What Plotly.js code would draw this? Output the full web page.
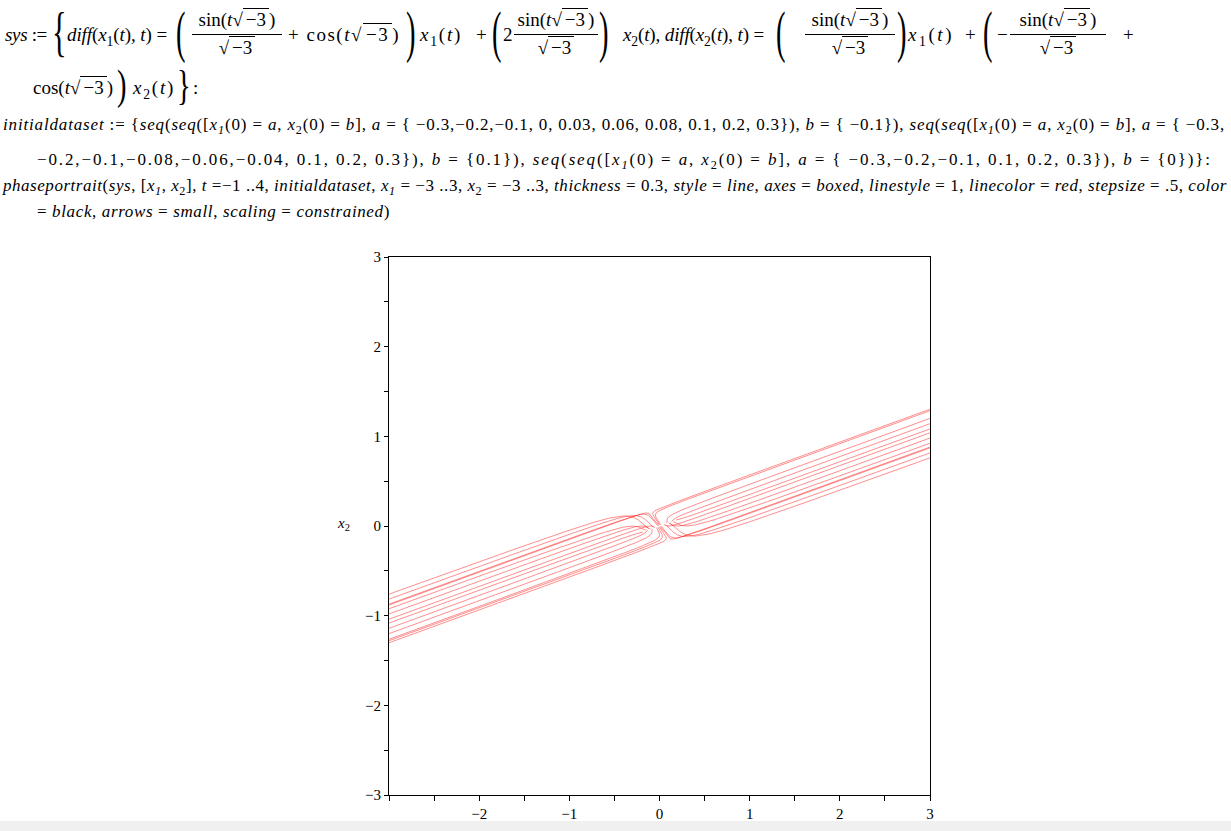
<!DOCTYPE html>
<html>
<head>
<meta charset="utf-8">
<script src="https://cdn.plot.ly/plotly-3.0.1.min.js"></script>
<style>
  html, body { margin:0; padding:0; background:#fff; width:1231px; height:831px; overflow:hidden; }
  #plot { position:absolute; left:0; top:0; width:1231px; height:831px; }
  .m, .ln, .fr, .bp { position:absolute; z-index:2; font-family:'Liberation Serif','Times New Roman',serif; color:#000; white-space:nowrap; pointer-events:none; }
  .m { font-size:19px; line-height:22px; }
  .ln { font-size:17px; line-height:20px; }
  .fr { font-size:19px; line-height:20px; text-align:center; }
  .fr .ba { border-top:1px solid #000; margin:4px 0 3px 0; height:0; }
  .ov { border-top:1px solid #000; padding:0 3px 0 3px; }
  sub { font-size:0.72em; vertical-align:-0.35em; line-height:0; }
  .bp { font-size:38px; line-height:38px; transform-origin:0 0; }
  #band { position:absolute; left:0; top:821px; width:1231px; height:10px; background:#f0f0f0; z-index:2; }
</style>
</head>
<body>
<div id="plot"></div>

<!-- sys := { ... } -->
<div class="m" data-w="42" style="left:5px;top:24px"><i>sys</i> :=</div>
<div class="bp" style="left:52px;top:4px;transform:scale(0.8,1.45)">{</div>
<div class="m" data-w="100" style="left:67px;top:24px"><i>diff</i>(<i>x</i><sub>1</sub>(<i>t</i>), <i>t</i>) =</div>
<div class="bp" style="left:176px;top:3px;transform:scale(0.75,1.5)">(</div>
<div class="fr" style="left:192px;top:10px;width:90px"><div>sin(<i>t</i>√<span class="ov">−3</span>)</div><div class="ba"></div><div>√<span class="ov">−3</span></div></div>
<div class="m" data-w="112" style="left:288px;top:24px">+ cos(<i>t</i>√<span class="ov">−3</span>)</div>
<div class="bp" style="left:406px;top:3px;transform:scale(0.75,1.5)">)</div>
<div class="m" data-w="42" style="left:420px;top:24px"><i>x</i><sub>1</sub>(<i>t</i>)</div>
<div class="m" style="left:476px;top:24px">+</div>
<div class="bp" style="left:492px;top:3px;transform:scale(0.75,1.5)">(</div>
<div class="m" style="left:503px;top:24px">2</div>
<div class="fr" style="left:514px;top:10px;width:84px"><div>sin(<i>t</i>√<span class="ov">−3</span>)</div><div class="ba"></div><div>√<span class="ov">−3</span></div></div>
<div class="bp" style="left:599px;top:3px;transform:scale(0.75,1.5)">)</div>
<div class="m" data-w="141" style="left:623px;top:24px"><i>x</i><sub>2</sub>(<i>t</i>), <i>diff</i>(<i>x</i><sub>2</sub>(<i>t</i>), <i>t</i>) =</div>
<div class="bp" style="left:776px;top:3px;transform:scale(0.75,1.5)">(</div>
<div class="fr" style="left:805px;top:10px;width:90px"><div>sin(<i>t</i>√<span class="ov">−3</span>)</div><div class="ba"></div><div>√<span class="ov">−3</span></div></div>
<div class="bp" style="left:897px;top:3px;transform:scale(0.75,1.5)">)</div>
<div class="m" data-w="46" style="left:908px;top:24px"><i>x</i><sub>1</sub>(<i>t</i>)</div>
<div class="m" style="left:965px;top:24px">+</div>
<div class="bp" style="left:983px;top:3px;transform:scale(0.75,1.5)">(</div>
<div class="m" style="left:997px;top:24px">−</div>
<div class="fr" style="left:1010px;top:10px;width:96px"><div>sin(<i>t</i>√<span class="ov">−3</span>)</div><div class="ba"></div><div>√<span class="ov">−3</span></div></div>
<div class="m" style="left:1123px;top:24px">+</div>

<div class="m" data-w="80" style="left:33px;top:77px">cos(<i>t</i>√<span class="ov">−3</span>)</div>
<div class="bp" style="left:117px;top:64px;transform:scale(0.75,1.1)">)</div>
<div class="m" data-w="42" style="left:133px;top:77px"><i>x</i><sub>2</sub>(<i>t</i>)</div>
<div class="bp" style="left:177px;top:64px;transform:scale(0.75,1.1)">}</div>
<div class="m" style="left:193px;top:77px">:</div>

<!-- initialdataset, phaseportrait call -->
<div class="ln" data-w="1222" style="left:3px;top:115px"><i>initialdataset</i> := {<i>seq</i>(<i>seq</i>([<i>x</i><sub><i>1</i></sub>(0) = <i>a</i>, <i>x</i><sub>2</sub>(0) = <i>b</i>], <i>a</i> = { −0.3,−0.2,−0.1, 0, 0.03, 0.06, 0.08, 0.1, 0.2, 0.3}), <i>b</i> = { −0.1}), <i>seq</i>(<i>seq</i>([<i>x</i><sub><i>1</i></sub>(0) = <i>a</i>, <i>x</i><sub>2</sub>(0) = <i>b</i>], <i>a</i> = { −0.3,</div>
<div class="ln" data-w="1175" style="left:37px;top:150px">−0.2,−0.1,−0.08,−0.06,−0.04, 0.1, 0.2, 0.3}), <i>b</i> = {0.1}), <i>seq</i>(<i>seq</i>([<i>x</i><sub><i>1</i></sub>(0) = <i>a</i>, <i>x</i><sub>2</sub>(0) = <i>b</i>], <i>a</i> = { −0.3,−0.2,−0.1, 0.1, 0.2, 0.3}), <i>b</i> = {0})}:</div>
<div class="ln" data-w="1224" style="left:3px;top:176px"><i>phaseportrait</i>(<i>sys</i>, [<i>x</i><sub><i>1</i></sub>, <i>x</i><sub>2</sub>], <i>t</i> =−1 ..4, <i>initialdataset</i>, <i>x</i><sub><i>1</i></sub> = −3 ..3, <i>x</i><sub>2</sub> = −3 ..3, <i>thickness</i> = 0.3, <i>style</i> = <i>line</i>, <i>axes</i> = <i>boxed</i>, <i>linestyle</i> = 1, <i>linecolor</i> = <i>red</i>, <i>stepsize</i> = .5, <i>color</i></div>
<div class="ln" data-w="353" style="left:37px;top:202px">= <i>black</i>, <i>arrows</i> = <i>small</i>, <i>scaling</i> = <i>constrained</i>)</div>

<div id="band"></div>

<script>
// spread each text run to its measured width with letter spacing
document.querySelectorAll('[data-w]').forEach(function (el) {
  var w = +el.getAttribute('data-w');
  var nat = el.getBoundingClientRect().width;
  var n = el.textContent.length;
  if (nat > 0 && n > 0) el.style.letterSpacing = ((w - nat) / n).toFixed(3) + 'px';
});

// Trajectories of the system, sampled along t in [-1, 4]; one x/y pair per initial point.
// b = -0.1
const c01x = [-0.1834,-0.1947,-0.2132,-0.2444,-0.3,-0.4094,-0.6599,-0.9168,-1.3802,-2.2971,-4.327];
const c01y = [-0.0665,-0.0691,-0.0736,-0.0823,-0.1,-0.1378,-0.2278,-0.3212,-0.4903,-0.8254,-1.568];
const c02x = [-0.1329,-0.1383,-0.1472,-0.1646,-0.2,-0.2757,-0.4557,-0.6424,-0.9806,-1.6508,-3.1361];
const c02y = [-0.0505,-0.0564,-0.066,-0.0798,-0.1,-0.1337,-0.2042,-0.2744,-0.3997,-0.6463,-1.191];
const c03x = [-0.0824,-0.0819,-0.0812,-0.0847,-0.1,-0.1419,-0.2514,-0.368,-0.5809,-1.0045,-1.9451,-4.3522];
const c03y = [-0.0345,-0.0436,-0.0584,-0.0774,-0.1,-0.1296,-0.1806,-0.2276,-0.3091,-0.4672,-0.8139,-1.697];
const c04x = [-0.032,-0.0256,-0.0153,-0.0049,0,-0.0082,-0.0472,-0.0936,-0.1812,-0.3582,-0.7541,-1.7701,-4.8747];
const c04y = [-0.0185,-0.0308,-0.0507,-0.0749,-0.1,-0.1255,-0.157,-0.1808,-0.2185,-0.288,-0.4369,-0.812,-1.9509];
const c05x = [-0.0168,-0.0086,0.0045,0.019,0.03,0.0319,0.0141,-0.0113,-0.0613,-0.1644,-0.3968,-0.9955,-2.827,-9.78];
const c05y = [-0.0137,-0.027,-0.0484,-0.0742,-0.1,-0.1243,-0.1499,-0.1667,-0.1913,-0.2343,-0.3237,-0.5465,-1.2198,-3.767];
const c06x = [-0.0017,0.0083,0.0243,0.043,0.06,0.072,0.0753,0.071,0.0586,0.0295,-0.0395,-0.2209,-0.7793,-2.9033,-13.585];
const c06y = [-0.0089,-0.0231,-0.0462,-0.0735,-0.1,-0.123,-0.1428,-0.1527,-0.1641,-0.1806,-0.2106,-0.2809,-0.4886,-1.2687,-5.1807];
const c07x = [0.0084,0.0195,0.0375,0.059,0.08,0.0988,0.1162,0.1259,0.1386,0.1588,0.1987,0.2956,0.5858,1.6812,7.1798];
const c07y = [-0.0057,-0.0206,-0.0446,-0.073,-0.1,-0.1222,-0.1381,-0.1433,-0.146,-0.1447,-0.1352,-0.1039,-0.0011,0.3971,2.4075];
const c08x = [0.0185,0.0308,0.0507,0.0749,0.1,0.1255,0.157,0.1808,0.2185,0.288,0.4369,0.812,1.951,6.2659];
const c08y = [-0.0025,-0.018,-0.0431,-0.0725,-0.1,-0.1214,-0.1334,-0.1339,-0.1279,-0.1089,-0.0598,0.0731,0.4864,2.0628];
const c09x = [0.069,0.0872,0.1167,0.1548,0.2,0.2592,0.3612,0.4552,0.6182,0.9343,1.6278,3.394];
const c09y = [0.0134,-0.0053,-0.0355,-0.07,-0.1,-0.1173,-0.1098,-0.0871,-0.0373,0.0702,0.3172,0.9582];
const c10x = [0.1195,0.1435,0.1827,0.2346,0.3,0.393,0.5655,0.7296,1.0179,1.5806,2.8188,5.9761];
const c10y = [0.0294,0.0075,-0.0279,-0.0676,-0.1,-0.1132,-0.0862,-0.0403,0.0533,0.2493,0.6943,1.8432];
// b = 0.1
const c11x = [-0.1195,-0.1435,-0.1827,-0.2346,-0.3,-0.393,-0.5655,-0.7296,-1.0179,-1.5806,-2.8188,-5.9761];
const c11y = [-0.0294,-0.0075,0.0279,0.0676,0.1,0.1132,0.0862,0.0403,-0.0533,-0.2493,-0.6943,-1.8432];
const c12x = [-0.069,-0.0872,-0.1167,-0.1548,-0.2,-0.2592,-0.3612,-0.4552,-0.6182,-0.9343,-1.6278,-3.394];
const c12y = [-0.0134,0.0053,0.0355,0.07,0.1,0.1173,0.1098,0.0871,0.0373,-0.0702,-0.3172,-0.9582];
const c13x = [-0.0185,-0.0308,-0.0507,-0.0749,-0.1,-0.1255,-0.157,-0.1808,-0.2185,-0.288,-0.4369,-0.812,-1.951,-6.2659];
const c13y = [0.0025,0.018,0.0431,0.0725,0.1,0.1214,0.1334,0.1339,0.1279,0.1089,0.0598,-0.0731,-0.4864,-2.0628];
const c14x = [-0.0084,-0.0195,-0.0375,-0.059,-0.08,-0.0988,-0.1162,-0.1259,-0.1386,-0.1588,-0.1987,-0.2956,-0.5858,-1.6812,-7.1798];
const c14y = [0.0057,0.0206,0.0446,0.073,0.1,0.1222,0.1381,0.1433,0.146,0.1447,0.1352,0.1039,0.0011,-0.3971,-2.4075];
const c15x = [0.0017,-0.0083,-0.0243,-0.043,-0.06,-0.072,-0.0753,-0.071,-0.0586,-0.0295,0.0395,0.2209,0.7793,2.9033,13.585];
const c15y = [0.0089,0.0231,0.0462,0.0735,0.1,0.123,0.1428,0.1527,0.1641,0.1806,0.2106,0.2809,0.4886,1.2687,5.1807];
const c16x = [0.0118,0.003,-0.0111,-0.027,-0.04,-0.0453,-0.0345,-0.0161,0.0213,0.0997,0.2777,0.7373,2.1445,7.488];
const c16y = [0.0121,0.0257,0.0477,0.074,0.1,0.1239,0.1476,0.162,0.1823,0.2164,0.286,0.4579,0.976,2.9344];
const c17x = [0.0824,0.0819,0.0812,0.0847,0.1,0.1419,0.2514,0.368,0.5809,1.0045,1.9451,4.3522];
const c17y = [0.0345,0.0436,0.0584,0.0774,0.1,0.1296,0.1806,0.2276,0.3091,0.4672,0.8139,1.697];
const c18x = [0.1329,0.1383,0.1472,0.1646,0.2,0.2757,0.4557,0.6424,0.9806,1.6508,3.1361];
const c18y = [0.0505,0.0564,0.066,0.0798,0.1,0.1337,0.2042,0.2744,0.3997,0.6463,1.191];
const c19x = [0.1834,0.1947,0.2132,0.2444,0.3,0.4094,0.6599,0.9168,1.3802,2.2971,4.327];
const c19y = [0.0665,0.0691,0.0736,0.0823,0.1,0.1378,0.2278,0.3212,0.4903,0.8254,1.568];
// b = 0
const c20x = [-0.1514,-0.1691,-0.198,-0.2395,-0.3,-0.4012,-0.6127,-0.8232,-1.199,-1.9388,-3.5729];
const c20y = [-0.0479,-0.0383,-0.0229,-0.0074,0,-0.0123,-0.0708,-0.1404,-0.2718,-0.5374,-1.1312];
const c21x = [-0.101,-0.1127,-0.132,-0.1597,-0.2,-0.2674,-0.4084,-0.5488,-0.7994,-1.2925,-2.3819,-5.1642];
const c21y = [-0.032,-0.0256,-0.0153,-0.0049,0,-0.0082,-0.0472,-0.0936,-0.1812,-0.3582,-0.7541,-1.7701];
const c22x = [-0.0505,-0.0564,-0.066,-0.0798,-0.1,-0.1337,-0.2042,-0.2744,-0.3997,-0.6463,-1.191,-2.5821,-6.8257];
const c22y = [-0.016,-0.0128,-0.0076,-0.0025,0,-0.0041,-0.0236,-0.0468,-0.0906,-0.1791,-0.3771,-0.8851,-2.4374];
const c23x = [0.0505,0.0564,0.066,0.0798,0.1,0.1337,0.2042,0.2744,0.3997,0.6463,1.191,2.5821,6.8257];
const c23y = [0.016,0.0128,0.0076,0.0025,0,0.0041,0.0236,0.0468,0.0906,0.1791,0.3771,0.8851,2.4374];
const c24x = [0.101,0.1127,0.132,0.1597,0.2,0.2674,0.4084,0.5488,0.7994,1.2925,2.3819,5.1642];
const c24y = [0.032,0.0256,0.0153,0.0049,0,0.0082,0.0472,0.0936,0.1812,0.3582,0.7541,1.7701];
const c25x = [0.1514,0.1691,0.198,0.2395,0.3,0.4012,0.6127,0.8232,1.199,1.9388,3.5729];
const c25y = [0.0479,0.0383,0.0229,0.0074,0,0.0123,0.0708,0.1404,0.2718,0.5374,1.1312];

const curves = [
  [c01x,c01y],[c02x,c02y],[c03x,c03y],[c04x,c04y],[c05x,c05y],
  [c06x,c06y],[c07x,c07y],[c08x,c08y],[c09x,c09y],[c10x,c10y],
  [c11x,c11y],[c12x,c12y],[c13x,c13y],[c14x,c14y],[c15x,c15y],
  [c16x,c16y],[c17x,c17y],[c18x,c18y],[c19x,c19y],
  [c20x,c20y],[c21x,c21y],[c22x,c22y],[c23x,c23y],[c24x,c24y],[c25x,c25y]
];

const majorTicks = [-3,-2,-1,0,1,2,3];
const majorText  = ['−3','−2','−1','0','1','2','3'];
const halfTicks  = [-3,-2.5,-2,-1.5,-1,-0.5,0,0.5,1,1.5,2,2.5,3];

const traces = curves.map(function (c) {
  return {
    type: 'scatter', mode: 'lines', x: c[0], y: c[1],
    line: { color: 'rgba(255,30,30,0.5)', width: 1 },
    hoverinfo: 'skip', showlegend: false
  };
});

const tickFont = { family: 'Liberation Serif, Times New Roman, serif', size: 15, color: '#000' };

const layout = {
  width: 1231, height: 831,
  margin: { l: 389, r: 301, t: 257, b: 36, pad: 0 },
  paper_bgcolor: 'rgba(0,0,0,0)', plot_bgcolor: '#fff',
  showlegend: false,
  xaxis: {
    range: [-3, 3], showgrid: false, zeroline: false,
    showline: true, mirror: true, linecolor: '#000', linewidth: 1,
    tickmode: 'array', tickvals: majorTicks.slice(1), ticktext: majorText.slice(1),
    ticks: 'outside', ticklen: 5, tickwidth: 1, tickcolor: '#000',
    minor: { tickmode: 'array', tickvals: halfTicks, ticks: 'outside', ticklen: 5, tickwidth: 1, tickcolor: '#000', showgrid: false },
    tickfont: tickFont, fixedrange: true
  },
  yaxis: {
    range: [-3, 3], showgrid: false, zeroline: false,
    showline: true, mirror: true, linecolor: '#000', linewidth: 1,
    tickmode: 'array', tickvals: majorTicks, ticktext: majorText,
    ticks: 'outside', ticklen: 4, tickwidth: 1, tickcolor: '#000',
    minor: { tickmode: 'array', tickvals: halfTicks, ticks: 'outside', ticklen: 4, tickwidth: 1, tickcolor: '#000', showgrid: false },
    tickfont: tickFont, fixedrange: true
  },
  annotations: [{
    xref: 'paper', yref: 'paper', x: -0.099, y: 0.504,
    text: '<i>x</i><sub>2</sub>', showarrow: false,
    font: { family: 'Liberation Serif, Times New Roman, serif', size: 15, color: '#000' }
  }]
};

Plotly.newPlot('plot', traces, layout, { displayModeBar: false, staticPlot: true });
</script>
</body>
</html>
